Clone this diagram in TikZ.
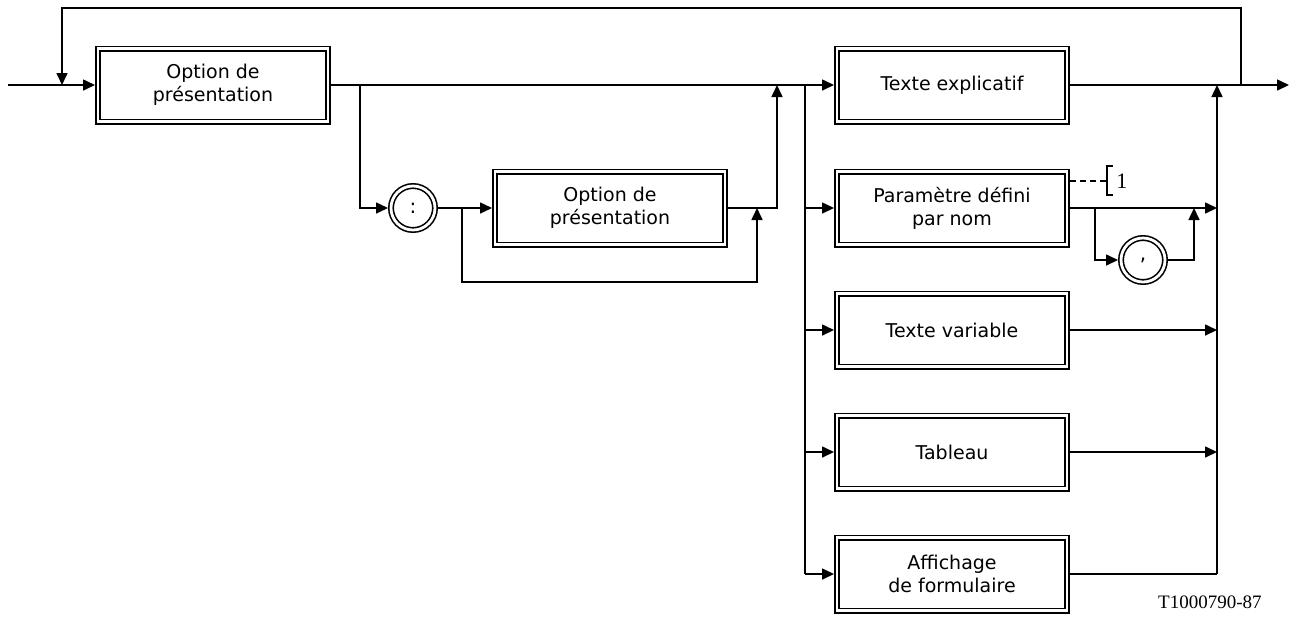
\documentclass[tikz,border=0pt]{standalone}
\usepackage{fontspec}
\setmainfont{DejaVu Sans}
\newfontfamily\tagfont{Liberation Serif}
\usetikzlibrary{arrows.meta}

\tikzset{
		optbox/.style = {shape=rectangle, draw, align=center,
				double, line width=0.8pt, double distance=1.4pt,
				minimum width=115pt, minimum height=36.5pt,
				outer sep=1.5pt, font=\fontsize{9.5}{11.5}\selectfont},
		sepnode/.style = {shape=circle, draw, double, line width=0.8pt,
				double distance=1.4pt, minimum size=22pt, inner sep=0pt,
				outer sep=1.5pt, font=\fontsize{10}{12}\selectfont},
		line/.style    = {line width=0.8pt},
		flow/.style    = {line, -{Triangle[length=6pt,width=5.5pt]}}
	}

\begin{document}
\begin{tikzpicture}
		[x=0.5pt, y=-0.5pt]
		\useasboundingbox (0,0) rectangle (1294,617);
		% nodes
		\node[optbox] (opt1) at (213,85) {Option de\\présentation};
		\node[sepnode] (colon) at (413,208) {:};
		\node[optbox] (opt2) at (610,208) {Option de\\présentation};
		\node[optbox] (txt)  at (952,85)  {Texte explicatif};
		\node[optbox] (par)  at (952,208) {Paramètre défini\\par nom};
		\node[optbox] (var)  at (952,330) {Texte variable};
		\node[optbox] (tab)  at (952,452) {Tableau};
		\node[optbox] (form) at (952,574) {Affichage\\de formulaire};
		\node[sepnode] (comma) at (1143,260) {,};
		% junctions
		\coordinate (in)  at (8,85);
		\coordinate (top) at (62,8);
		\coordinate (ret) at (1241,85);
		\coordinate (out) at (1289,85);
		\coordinate (sp1) at (360,85);
		\coordinate (sp3) at (462,208);
		\coordinate (bot) at (610,282);
		\coordinate (jn3) at (757,208);
		\coordinate (jn1) at (777,85);
		\coordinate (sp2) at (805,85);
		\coordinate (mg)  at (1217,85);
		\coordinate (sp4) at (1095,208);
		\coordinate (jn4) at (1194,208);
		\coordinate (note) at (1107,181);
		% main path
		\draw[flow] (in) -- (opt1.west);
		\draw[flow] (ret) |- (top) -- (top |- opt1.west);
		\draw[flow] (opt1.east) -- (txt.west);
		\draw[flow] (txt.east) -- (out);
		% first loop
		\draw[flow] (sp1) |- (colon.west);
		\draw[flow] (colon.east) -- (opt2.west);
		\draw[flow] (sp3) |- (bot) -| (jn3);
		\draw[flow] (opt2.east) -| (jn1);
		% choices
		\draw[line] (sp2) -- (sp2 |- form.west);
		\foreach \b in {par,var,tab,form}
			\draw[flow] (sp2 |- \b.west) -- (\b.west);
		\foreach \b in {par,var,tab}
			\draw[flow] (\b.east) -- (mg |- \b.east);
		\draw[line] (form.east) -- (mg |- form.east);
		\draw[flow] (mg |- form.east) -- (mg);
		% comma loop
		\draw[flow] (sp4) |- (comma.west);
		\draw[flow] (comma.east) -| (jn4);
		% note
		\draw[line, dashed, dash pattern=on 3pt off 2pt] (par.east |- note) -- (note);
		\draw[line] (1113,166) -- (1107,166) -- (1107,195) -- (1113,195);
		\node[anchor=west, inner sep=1pt, font=\tagfont\fontsize{11}{12}\selectfont] (one) at (1114,181) {1};
		\node[anchor=east, inner sep=0pt, font=\tagfont\fontsize{9.5}{11}\selectfont] (tag) at (1262,602) {T1000790-87};
	\end{tikzpicture}
\end{document}
